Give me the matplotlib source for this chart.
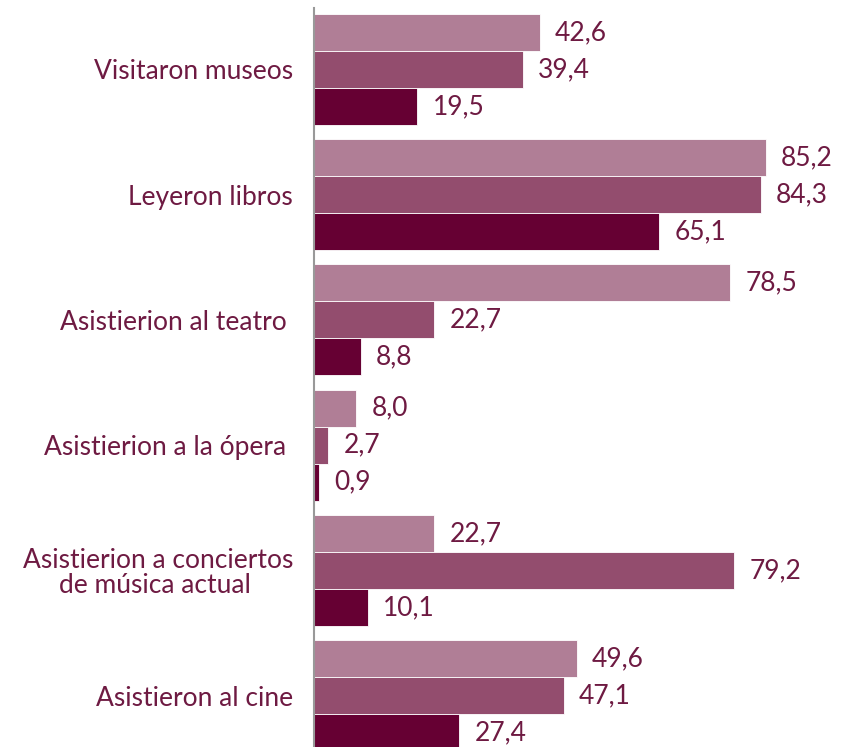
import matplotlib.pyplot as plt
import numpy as np

# Actividades culturales, tres series por categoría
categorias = ['Visitaron museos', 'Leyeron libros', 'Asistierion al teatro ',
              'Asistierion a la ópera ', 'Asistierion a conciertos\nde música actual ',
              'Asistieron al cine']
serie_1 = [42.6, 85.2, 78.5, 8.0, 22.7, 49.6]
serie_2 = [39.4, 84.3, 22.7, 2.7, 79.2, 47.1]
serie_3 = [19.5, 65.1, 8.8, 0.9, 10.1, 27.4]

colores = ['#B07E96', '#934D6E', '#660033']
texto = '#6E1A42'

plt.rcParams['font.family'] = ['Lato', 'DejaVu Sans']
fs = 19

fig = plt.figure(figsize=(8.43, 7.47), dpi=100)
ax = fig.add_axes([314 / 843, 0, 1 - 314 / 843, 739 / 747])

h = 0.2955
y = np.arange(len(categorias))
for k, (serie, col) in enumerate(zip([serie_1, serie_2, serie_3], colores)):
    pos = y + (k - 1) * h
    ax.barh(pos, serie, height=h, color=col, edgecolor='white', linewidth=0.6)
    for p, v in zip(pos, serie):
        ax.annotate(f'{v:.1f}'.replace('.', ','), (v, p), xytext=(15, 0),
                    textcoords='offset pixels', va='center', ha='left',
                    fontsize=fs, color=texto)

ax.set_xlim(0, 529 / 5.305)
ax.set_ylim(5.411, -0.491)
ax.set_yticks(y)
ax.set_yticklabels(categorias, fontsize=fs, color=texto,
                   multialignment='center', linespacing=1.0)
ax.tick_params(axis='y', length=0, pad=15)
ax.set_xticks([])
for s in ['top', 'right', 'bottom']:
    ax.spines[s].set_visible(False)
ax.spines['left'].set_color('#999999')
ax.spines['left'].set_linewidth(1.5)

fig.savefig('out.png', dpi=100)
